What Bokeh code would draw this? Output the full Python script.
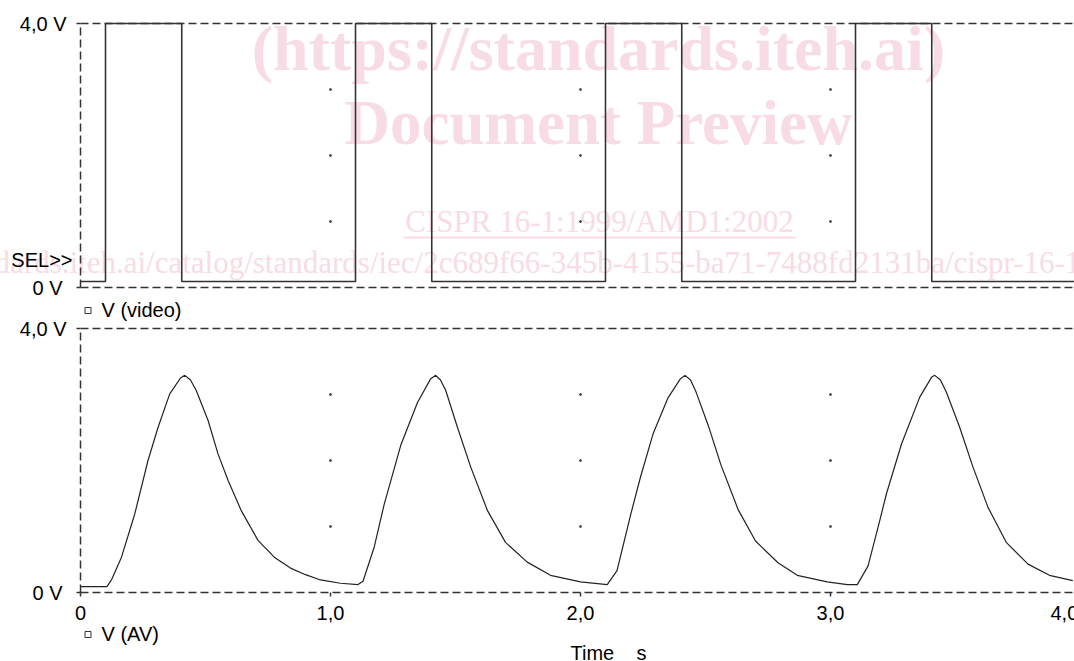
from bokeh.plotting import figure
from bokeh.models import (Range1d, Label, Legend, LegendItem, BoxAnnotation,
                          ColumnDataSource)
from bokeh.core.properties import value
from bokeh.embed import file_html
from bokeh.resources import INLINE

# ---------------- data ----------------
video_t = [0.0, 0.100, 0.100, 0.405, 0.405, 1.100, 1.100, 1.405, 1.405,
           2.100, 2.100, 2.405, 2.405, 3.100, 3.100, 3.405, 3.405, 4.0]
video_v = [0.09, 0.09, 4.0, 4.0, 0.09, 0.09, 4.0, 4.0, 0.09,
           0.09, 4.0, 4.0, 0.09, 0.09, 4.0, 4.0, 0.09, 0.09]

av_t = [0.000, 0.106, 0.125, 0.164, 0.217, 0.270, 0.310, 0.357, 0.400, 0.417, 0.440, 0.463,
        0.510, 0.550, 0.590, 0.643, 0.710, 0.775, 0.840, 0.900, 0.960, 1.040, 1.110,
        1.130, 1.175, 1.215, 1.281, 1.348, 1.401, 1.421, 1.440, 1.461, 1.508, 1.561,
        1.628, 1.700, 1.787, 1.880, 2.000, 2.107,
        2.146, 2.200, 2.240, 2.290, 2.350, 2.400, 2.418, 2.440, 2.462, 2.512, 2.562,
        2.630, 2.700, 2.790, 2.867, 2.987, 3.067, 3.107,
        3.150, 3.197, 3.224, 3.284, 3.357, 3.404, 3.417, 3.440, 3.464, 3.517, 3.570,
        3.630, 3.703, 3.790, 3.876, 3.969]
av_v = [0.09, 0.09, 0.20, 0.535, 1.19, 2.00, 2.50, 3.01, 3.25, 3.29, 3.22, 3.06,
        2.61, 2.10, 1.70, 1.24, 0.79, 0.535, 0.37, 0.27, 0.19, 0.14, 0.12,
        0.17, 0.69, 1.34, 2.23, 2.88, 3.24, 3.29, 3.22, 3.06, 2.50, 1.90,
        1.24, 0.76, 0.46, 0.26, 0.16, 0.12,
        0.33, 1.17, 1.75, 2.40, 2.95, 3.24, 3.29, 3.22, 3.04, 2.52, 1.93,
        1.26, 0.78, 0.45, 0.26, 0.16, 0.12, 0.12,
        0.40, 1.09, 1.50, 2.25, 2.96, 3.26, 3.29, 3.22, 3.03, 2.50, 1.90,
        1.29, 0.76, 0.43, 0.26, 0.18]

x_tick_vals = [0, 1, 2, 3, 4]
x_tick_labels = ["0", "1,0", "2,0", "3,0", "4,0"]
y_tick_vals = [0, 4]
y_tick_labels = ["0 V", "4,0 V"]
grid_x = [1, 2, 3]
grid_y = [1, 2, 3]

top_name = "V (video)"
bottom_name = "V (AV)"
x_title = "Time\u00a0\u00a0\u00a0 s"
sel_text = "SEL>>"

# ---------------- layout constants (pixels) ----------------
W, H = 1074, 661
X0_PX = 80            # x = 0 s
PX_S = 250.0          # pixels per second
PX_V = 66.0           # pixels per volt
MAIN_ZERO_PX = 592    # 0 V of lower panel (from top)
VID_ZERO_PX = 287     # 0 V of upper panel (from top)
TICK = 4

FONT = "Liberation Sans"
FS = "20px"
DASH = "8 4"
LINE_C = "#333333"

x_start = -X0_PX / PX_S
x_end = (W - X0_PX) / PX_S

p = figure(width=W, height=H, output_backend="svg", toolbar_location=None,
           x_range=Range1d(x_start, x_end),
           y_range=Range1d((MAIN_ZERO_PX - H) / PX_V, MAIN_ZERO_PX / PX_V),
           min_border=0, min_border_left=0, min_border_right=0,
           min_border_top=0, min_border_bottom=0,
           x_axis_location=None, y_axis_location=None)
p.extra_y_ranges = {"video": Range1d((VID_ZERO_PX - H) / PX_V, VID_ZERO_PX / PX_V)}
p.xgrid.visible = False
p.ygrid.visible = False
p.outline_line_color = None
p.background_fill_color = "white"
p.border_fill_color = "white"

lo, hi = y_tick_vals[0], y_tick_vals[-1]
panels = [None, "video"]

# ---------------- watermark (pink, behind) ----------------
PINK = "#f8dce5"
SERIF = "Liberation Serif"

def lab(text, x, y, **kw):
    opts = dict(x=x, y=y, x_units="screen", y_units="screen", text=text,
                text_font=FONT, text_font_size=FS, text_color="black")
    opts.update(kw)
    p.add_layout(Label(**opts))

lab("(https://standards.iteh.ai)", 598, 613, text_align="center", text_baseline="alphabetic",
    text_font=SERIF, text_font_size="64px", text_font_style="bold", text_color=PINK, level="underlay")
lab("Document Preview", 598, 539, text_align="center", text_baseline="alphabetic",
    text_font=SERIF, text_font_size="63px", text_font_style="bold", text_color=PINK, level="underlay")
lab("CISPR 16-1:1999/AMD1:2002", 599, 440, text_align="center", text_baseline="alphabetic",
    text_font=SERIF, text_font_size="31px", text_color=PINK, level="underlay")
p.add_layout(BoxAnnotation(left=403, right=795, bottom=423, top=425,
                           left_units="screen", right_units="screen",
                           bottom_units="screen", top_units="screen",
                           fill_color=PINK, fill_alpha=1, line_color=None, level="underlay"))
lab("https://standards.iteh.ai/catalog/standards/iec/2c689f66-345b-4155-ba71-7488fd2131ba/cispr-16-1-1999-amd1-2002",
    -142, 399, text_align="left", text_baseline="alphabetic",
    text_font=SERIF, text_font_size="31px", text_color=PINK, level="underlay")

# ---------------- panel frames ----------------
for rn in panels:
    kw = {} if rn is None else {"y_range_name": rn}
    p.segment(x0=[0, 0], y0=[lo, hi], x1=[x_end, x_end], y1=[lo, hi],
              line_color=LINE_C, line_width=1.5, line_dash=DASH, **kw)
    p.segment(x0=[0], y0=[lo], x1=[0], y1=[hi],
              line_color=LINE_C, line_width=1.5, line_dash=DASH, **kw)
    p.segment(x0=[-TICK / PX_S] * len(y_tick_vals), y0=y_tick_vals,
              x1=[0] * len(y_tick_vals), y1=y_tick_vals,
              line_color=LINE_C, line_width=1.5, **kw)
    src = ColumnDataSource(dict(x=[0] * len(y_tick_vals), y=y_tick_vals,
                                t=y_tick_labels, xo=[-18, -14]))
    p.text(x="x", y="y", text="t", x_offset="xo", source=src,
           text_align="right", text_baseline="middle",
           text_font=value(FONT), text_font_size=FS, text_color="black", **kw)
    gx = [x for y in grid_y for x in grid_x]
    gy = [y for y in grid_y for x in grid_x]
    p.scatter(gx, gy, size=2, color="#444444", **kw)

# x ticks & labels (lower panel)
xt_in = [v for v in x_tick_vals if v <= x_end]
p.segment(x0=xt_in, y0=[0] * len(xt_in), x1=xt_in, y1=[-TICK / PX_V] * len(xt_in),
          line_color=LINE_C, line_width=1.5)
p.text(x=xt_in, y=[0] * len(xt_in), text=x_tick_labels[:len(xt_in)], y_offset=20,
       text_align="center", text_baseline="middle",
       text_font=value(FONT), text_font_size=FS, text_color="black")
# last tick label lies past the right edge; it is pulled in and cut by the edge
lab(x_tick_labels[-1], X0_PX + x_tick_vals[-1] * PX_S - 30, H - 612,
    text_align="left", text_baseline="middle")

# ---------------- data lines ----------------
p.line(video_t, video_v, y_range_name="video", line_color=LINE_C, line_width=1.6)
p.line(av_t, av_v, line_color="#222222", line_width=1.2)

# ---------------- legends ----------------
nan = float("nan")
dummy1 = p.scatter([nan], [nan], marker="square", size=6, fill_color=None,
                   line_color=LINE_C, line_width=1)
dummy2 = p.scatter([nan], [nan], marker="square", size=6, fill_color=None,
                   line_color=LINE_C, line_width=1)

def make_legend(name, rend, loc):
    lg = Legend(items=[LegendItem(label=name, renderers=[rend])], location=loc,
                padding=0, margin=0, spacing=0, glyph_width=15, glyph_height=20,
                label_standoff=7, label_text_font=FONT, label_text_font_size=FS,
                label_text_color="black", border_line_color=None,
                background_fill_alpha=0, label_height=20)
    p.add_layout(lg)

make_legend(top_name, dummy1, (79.5, H - 321.5))
make_legend(bottom_name, dummy2, (79.5, H - 645.5))

# ---------------- other texts ----------------
lab(sel_text, 72, H - 259, text_align="right", text_baseline="middle")
lab(x_title, 570, H - 652, text_align="left", text_baseline="middle")

open("out.html", "w").write(file_html(p, INLINE))
